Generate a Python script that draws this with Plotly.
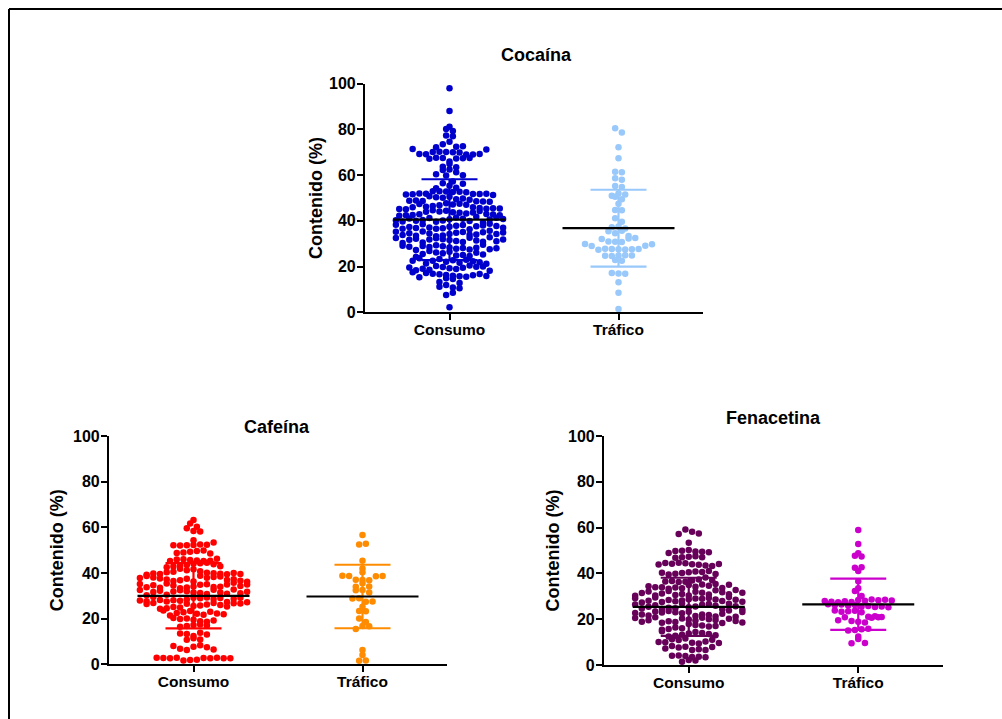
import math
import plotly.graph_objects as go

# ---------------- data ----------------
categories = ["Consumo", "Tráfico"]
panel_titles = ["Cocaína", "Cafeína", "Fenacetina"]
y_title = "Contenido (%)"
y_ticks = [0, 20, 40, 60, 80, 100]

coca_consumo = [
    98.0, 88.1, 81.2, 80.2, 79.3, 77.3, 77.0,
    74.6, 73.5, 72.4, 72.2, 72.6,
    70.1, 70.0, 70.2, 69.9, 70.1, 69.0, 69.1, 69.0, 69.3, 69.2, 71.4, 71.2,
    66.0, 67.5, 67.3, 67.6, 67.4, 67.2, 67.5,
    64.9, 63.7, 63.5,
    62.5, 62.3, 61.3, 60.4, 60.0,
    59.8, 57.2,
    55.4, 56.5, 54.5, 54.3, 56.2,
    52.8, 52.6, 53.0, 52.7, 52.9, 52.5, 51.9, 51.8, 52.0, 51.7, 51.6, 51.9, 51.5, 51.3,
    50.6, 50.1, 49.5, 50.3, 49.8, 50.8, 49.2, 48.7, 48.6, 48.9, 48.5, 48.8, 48.4,
    47.7, 47.2, 46.8, 47.5, 46.5, 47.0, 46.2, 45.9, 47.4, 45.6, 46.0, 45.3, 45.1, 45.5, 45.2, 45.4,
    44.4, 43.8, 44.1, 43.5, 44.6, 43.2, 44.0, 43.7, 42.9, 44.3, 42.6, 43.0, 42.4, 42.8, 42.2, 42.5,
    40.7, 40.2, 41.5, 39.6, 40.9, 41.2, 39.9, 40.4, 41.8, 40.0, 39.3, 41.0, 40.6, 39.7, 41.4, 40.3, 40.8,
    37.4, 36.8, 37.9, 36.5, 38.2, 37.1, 36.3, 38.5, 37.6, 36.9, 38.0, 37.3, 38.7, 36.6, 37.8, 38.3, 37.0,
    34.2, 33.6, 34.8, 33.3, 35.1, 34.5, 33.9, 35.4, 34.0, 33.5, 35.0, 34.6, 35.7, 33.8, 34.3, 35.2, 34.9,
    31.6, 32.0, 31.2, 32.4, 30.8, 31.9, 32.6, 30.5, 31.4, 32.2, 30.9, 31.7, 32.8, 30.3, 31.1, 32.5, 31.8,
    28.4, 28.9, 27.8, 29.3, 28.1, 28.6, 27.5, 29.0, 28.2, 27.3, 29.5, 28.7, 27.6, 29.1, 28.0,
    26.5, 25.8, 24.9, 26.2, 25.1, 26.8, 24.6, 25.5, 26.0, 24.3, 25.3,
    22.1, 22.8, 23.3, 21.7, 22.5, 23.0, 21.4, 22.3, 23.6, 21.9, 22.6, 21.2,
    19.3, 19.8, 18.9, 20.2, 19.5, 18.6, 20.5, 19.1, 19.9, 18.4, 20.0, 19.6, 18.2,
    16.3, 16.0, 16.6, 15.8, 16.9, 15.5, 17.2, 16.2, 15.3, 16.8, 17.5, 15.9,
    14.9, 14.6, 13.2, 12.8,
    11.9, 10.8, 11.2, 10.5,
    7.6, 8.5,
    2.2,
]

coca_trafico = [
    80.5, 78.7, 72.2, 67.4,
    61.5, 61.3, 58.6, 58.0, 55.2, 54.8,
    52.0, 51.0, 51.5, 50.5, 49.5, 47.5,
    44.8, 44.6, 41.1, 39.6,
    37.5, 37.2, 36.7,
    34.6, 35.7, 35.5, 33.4,
    30.9, 30.7, 31.0, 32.3, 32.1, 32.5,
    27.6, 27.7, 27.5, 27.8, 27.6, 27.4, 27.7, 29.0, 29.1, 29.9, 29.8,
    24.8, 24.6, 25.0, 24.7, 24.9,
    22.9, 22.5,
    17.0, 17.2, 16.9,
    13.1, 8.6, 1.4,
]

caf_consumo = [
    63.2, 61.7, 60.2, 58.4, 59.6, 58.2, 54.3,
    52.3, 52.1, 52.5, 52.0, 52.4, 52.2, 53.3,
    49.3, 49.6, 49.0, 49.8, 48.7, 48.5,
    45.7, 45.5, 46.0, 45.3, 45.9, 45.4, 45.2, 46.2,
    44.0, 43.5, 44.3, 43.2, 44.5, 42.8, 43.8, 42.5, 43.0,
    41.6, 41.2, 40.8, 41.9, 40.1, 40.5, 39.9, 40.3, 39.7, 39.5, 39.4, 39.8, 40.0, 39.2, 39.6,
    36.3, 37.5, 38.8, 36.8, 37.9, 36.5, 38.2, 37.1, 38.5, 37.6, 36.9, 38.0, 37.3, 38.7, 36.6, 37.8, 36.2,
    34.1, 33.6, 34.8, 33.3, 35.1, 34.5, 33.9, 35.4, 34.0, 33.5, 35.0, 34.6, 35.7, 33.8, 34.3, 35.2, 34.9,
    31.5, 32.0, 31.2, 32.4, 30.8, 31.9, 32.6, 30.5, 31.4, 32.2, 30.9, 31.7, 32.8, 30.3, 31.1, 32.5, 31.8,
    29.2, 28.4, 28.9, 27.8, 29.3, 28.1, 28.6, 27.5, 29.0, 28.2, 27.3, 29.5, 28.7, 27.6, 29.1, 28.0, 27.2,
    25.5, 26.5, 25.8, 24.9, 26.2, 25.1, 26.8, 24.6, 26.0, 24.3, 25.3, 26.9, 26.7, 26.4, 26.6,
    23.3, 22.1, 22.8, 21.7, 22.5, 23.0, 21.4, 22.3, 23.6, 21.9,
    19.5, 20.1, 18.9, 19.8, 18.6, 20.3, 19.2,
    17.2, 16.8, 17.4, 16.5, 17.0,
    12.4, 13.3, 13.8, 13.5, 13.1,
    11.4, 10.7, 10.9,
    7.7, 6.3, 8.3, 6.8, 7.5, 8.0, 6.5,
    1.9, 2.0, 1.7, 2.8, 2.9, 2.6, 2.7, 2.9, 2.8, 2.6, 2.9, 2.7,
]

caf_trafico = [
    56.6, 52.5, 52.8, 45.4, 42.0, 40.3,
    36.9, 37.0, 36.8, 38.7, 38.6, 38.8, 38.7,
    35.5, 34.0, 34.1,
    32.5, 32.4, 31.4,
    28.9, 27.4, 28.8, 27.5,
    25.2, 23.3, 23.2, 20.1, 18.5,
    16.8, 15.5, 16.7,
    6.3, 4.1, 1.6, 1.7,
]

fen_consumo = [
    59.2, 58.2, 57.2, 57.4,
    53.4,
    50.2, 49.9, 49.6, 49.8, 49.5, 48.9, 49.2,
    47.3, 47.0, 47.5, 46.8, 47.1,
    44.4, 44.0, 44.6, 43.8, 44.2, 43.5, 44.5, 43.2, 43.9, 44.1,
    40.5, 40.2, 40.8, 39.9, 40.6, 39.5, 41.0, 40.3, 39.7,
    36.4, 36.9, 36.2, 37.3, 36.7, 38.2, 36.5, 37.0,
    34.9, 33.5, 34.2, 33.8, 35.1, 33.3, 34.6, 33.9, 35.4, 34.0, 33.6, 34.4, 35.0,
    30.3, 31.0, 32.0, 30.6, 31.5, 32.3, 30.8, 31.2, 32.6, 30.4, 31.8, 32.1, 30.9, 31.4, 32.8, 30.2, 31.6,
    28.7, 28.2, 29.0, 27.8, 28.9, 28.4, 29.3, 27.5, 28.6, 29.5, 27.9, 28.1, 29.7, 27.3, 28.5, 29.2, 27.6,
    25.2, 26.9, 25.6, 24.8, 26.3, 25.0, 26.6, 24.5, 25.9, 26.1, 24.3, 25.4, 26.8, 24.7, 25.7, 26.4, 24.2,
    23.3, 22.6, 21.4, 23.0, 22.1, 23.6, 21.8, 22.9, 21.2, 23.4, 22.4, 21.6, 23.8, 22.0, 21.1, 22.7, 23.1,
    19.9, 20.3, 19.4, 18.8, 20.6, 19.1, 20.0, 18.5, 19.7, 20.8, 18.3, 19.5, 20.2, 18.9, 19.2, 20.5, 18.6,
    17.9, 16.0, 17.5, 16.4, 17.2, 15.7, 16.8, 15.4, 17.0,
    13.8, 13.2, 14.4, 12.8, 14.0, 12.5, 13.5, 14.7, 13.0,
    11.6, 9.7, 10.9, 9.4, 11.2, 10.3, 9.9, 11.0, 10.0, 9.6,
    8.0, 6.5, 7.6, 6.9, 8.3, 6.6, 7.2, 7.9,
    3.9, 3.5, 4.2, 3.6, 4.0, 3.4,
    2.2, 1.4, 2.0,
]

fen_trafico = [
    59.0, 52.8, 48.8, 47.7, 47.4, 42.5, 42.7, 41.0, 36.6, 33.5, 32.3, 30.1,
    28.4, 27.5, 28.1, 27.8, 28.6, 27.4, 28.3, 27.6, 28.5, 27.9, 28.2,
    26.2, 25.5, 26.0, 25.8, 26.4, 25.3, 26.1, 25.6, 26.5, 25.2,
    23.7, 23.0, 23.5, 21.1, 23.2, 21.3, 23.8, 21.0,
    18.9, 19.2, 18.6, 20.9, 20.6, 19.5, 20.8,
    15.3, 15.6, 15.1, 15.8,
    12.4, 11.3, 9.5, 9.6,
]

# mean and SD
coca_mean = [40.5, 36.8]
coca_sd = [17.7, 16.8]
caf_mean = [30.0, 29.7]
caf_sd = [14.3, 13.9]
fen_mean = [25.4, 26.5]
fen_sd = [12.7, 11.2]

coca_colors = ["#0000CC", "#99C8FA"]
caf_colors = ["#FF0000", "#FF8C00"]
fen_colors = ["#660058", "#CC00CC"]

# ---------------- layout helpers ----------------
W, H = 1002, 719
FONT = "Liberation Sans, Arial, sans-serif"
BIN = 3.0          # beeswarm row height (data units)
DOT_PX = 6.7       # horizontal spacing of dots (px)


def px_x(p):
    return p / W


def px_y(p):
    return 1 - p / H


panels = [
    dict(data=[coca_consumo, coca_trafico], mean=coca_mean, sd=coca_sd, colors=coca_colors,
         x0=365, x1=703, ybot=312.3, ytop=83.7, title_xy=(536, 55), ytitle_x=316),
    dict(data=[caf_consumo, caf_trafico], mean=caf_mean, sd=caf_sd, colors=caf_colors,
         x0=109, x1=447, ybot=664.3, ytop=436.0, title_xy=(277, 427), ytitle_x=57),
    dict(data=[fen_consumo, fen_trafico], mean=fen_mean, sd=fen_sd, colors=fen_colors,
         x0=604, x1=943, ybot=665.0, ytop=436.0, title_xy=(773, 418), ytitle_x=552),
]

XR = [-0.5, 1.5]


def swarm_offsets(values):
    """Prism-like binned swarm: points in the same row spread outward from the centre."""
    bins = {}
    for idx, v in enumerate(values):
        bins.setdefault(int(math.floor(v / BIN)), []).append(idx)
    offs = [0.0] * len(values)
    for members in bins.values():
        n = len(members)
        slots = [i - (n - 1) / 2 for i in range(n)]
        slots.sort(key=lambda s: (abs(s), s))
        for idx, s in zip(members, slots):
            offs[idx] = s
    return offs


fig = go.Figure()
layout = dict(
    width=W, height=H, autosize=False,
    margin=dict(l=0, r=0, t=0, b=0, pad=0, autoexpand=False),
    paper_bgcolor="white", plot_bgcolor="white",
    showlegend=False,
    annotations=[], shapes=[],
)

for k, p in enumerate(panels):
    sfx = "" if k == 0 else str(k + 1)
    xa, ya = "x" + sfx, "y" + sfx
    px_per_unit = (p["x1"] - p["x0"]) / (XR[1] - XR[0])
    dx = DOT_PX / px_per_unit
    mean_half = 56 / px_per_unit
    sd_half = 28 / px_per_unit

    for i, vals in enumerate(p["data"]):
        offs = swarm_offsets(vals)
        fig.add_trace(go.Scatter(
            x=[i + o * dx for o in offs], y=vals, mode="markers",
            marker=dict(size=6.5, color=p["colors"][i], line=dict(width=0)),
            xaxis=xa, yaxis=ya, cliponaxis=False, hoverinfo="y",
        ))
    for i in range(2):
        m, s = p["mean"][i], p["sd"][i]
        fig.add_trace(go.Scatter(
            x=[i - sd_half, i + sd_half, None, i - sd_half, i + sd_half, None, i, i],
            y=[m + s, m + s, None, m - s, m - s, None, m - s, m + s],
            mode="lines", line=dict(color=p["colors"][i], width=2.2),
            xaxis=xa, yaxis=ya, cliponaxis=False, hoverinfo="skip",
        ))
        fig.add_trace(go.Scatter(
            x=[i - mean_half, i + mean_half], y=[m, m],
            mode="lines", line=dict(color="black", width=2.2),
            xaxis=xa, yaxis=ya, cliponaxis=False, hoverinfo="skip",
        ))

    layout["xaxis" + sfx] = dict(
        domain=[px_x(p["x0"]), px_x(p["x1"])], anchor=ya, range=XR,
        tickmode="array", tickvals=[0, 1], ticktext=categories,
        showline=True, linewidth=2.2, linecolor="black",
        ticks="outside", ticklen=6, tickwidth=2, tickcolor="black",
        ticklabelstandoff=-4,
        tickfont=dict(family=FONT, size=15.5, color="black", weight="bold"),
        showgrid=False, zeroline=False, fixedrange=True, automargin=False,
    )
    layout["yaxis" + sfx] = dict(
        domain=[px_y(p["ybot"]), px_y(p["ytop"])], anchor=xa, range=[0, 100],
        tickmode="array", tickvals=y_ticks,
        showline=True, linewidth=2.2, linecolor="black",
        ticks="outside", ticklen=6, tickwidth=2, tickcolor="black",
        ticklabelstandoff=-2,
        tickfont=dict(family=FONT, size=16, color="black", weight="bold"),
        showgrid=False, zeroline=False, fixedrange=True, automargin=False,
    )
    tx, ty = p["title_xy"]
    layout["annotations"].append(dict(
        text=panel_titles[k], x=px_x(tx), y=px_y(ty), xref="paper", yref="paper",
        xanchor="center", yanchor="middle", showarrow=False,
        font=dict(family=FONT, size=18, color="black", weight="bold"),
    ))
    layout["annotations"].append(dict(
        text=y_title, x=px_x(p["ytitle_x"]), y=px_y((p["ybot"] + p["ytop"]) / 2),
        xref="paper", yref="paper", xanchor="center", yanchor="middle",
        textangle=-90, showarrow=False,
        font=dict(family=FONT, size=18, color="black", weight="bold"),
    ))

# outer frame (left and top edges visible)
layout["shapes"].append(dict(type="line", xref="paper", yref="paper",
                             x0=px_x(9), x1=px_x(9), y0=px_y(9), y1=0,
                             line=dict(color="black", width=2)))
layout["shapes"].append(dict(type="line", xref="paper", yref="paper",
                             x0=px_x(9), x1=1, y0=px_y(9), y1=px_y(9),
                             line=dict(color="black", width=2)))

fig.update_layout(**layout)

pin_page = (
    "document.documentElement.style.margin='0px';"
    "document.body.style.margin='0px';"
    "document.body.style.overflow='hidden';"
    "var gd=document.getElementById('{plot_id}');"
    "gd.style.position='fixed';gd.style.left='0px';gd.style.top='0px';"
)
fig.write_html(
    "out.html",
    config={"displayModeBar": False, "responsive": False},
    post_script=pin_page,
)
